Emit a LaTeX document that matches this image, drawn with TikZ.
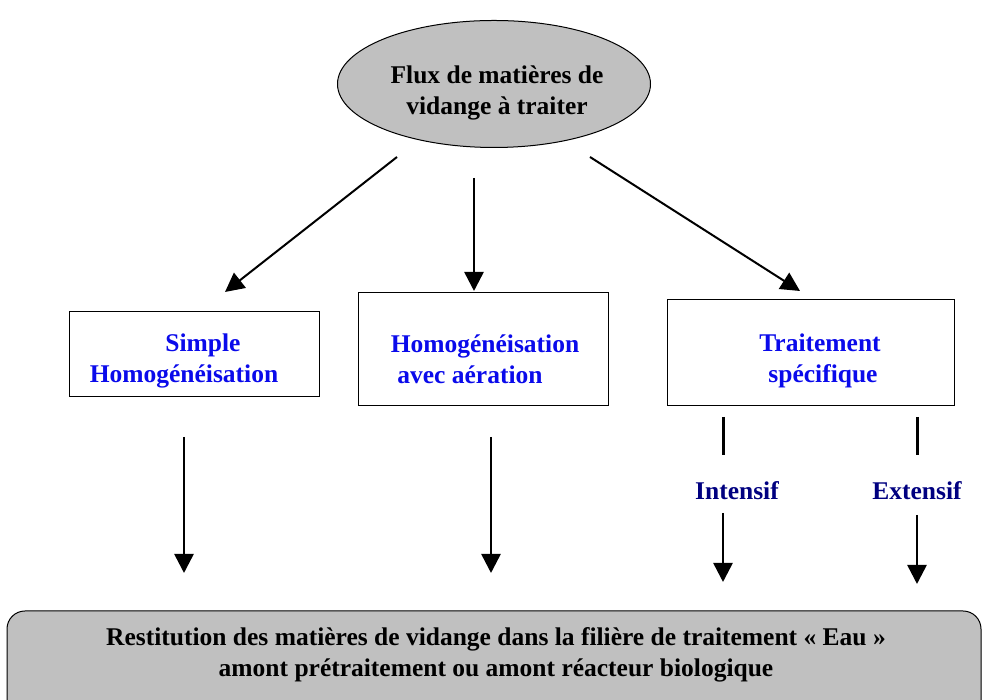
\documentclass[tikz,border=0pt]{standalone}
\usepackage{fontspec}
\setmainfont{Liberation Serif}
\usetikzlibrary{arrows.meta,shapes.geometric}
\definecolor{fillgray}{RGB}{192,192,192}
\definecolor{boxblue}{RGB}{10,10,235}
\definecolor{labnavy}{RGB}{0,0,128}
\tikzset{
  txt/.style={font=\bfseries\fontsize{25.5}{31}\selectfont, align=center, inner sep=0pt},
  procbox/.style={draw, line width=1pt, fill=white, inner sep=0pt},
  boxtxt/.style={txt, text=boxblue},
  arr/.style={line width=2pt, -{Triangle[length=19pt,width=19pt]}},
  varr/.style={line width=2.6pt, -{Triangle[length=19pt,width=19pt]}},
  seg/.style={line width=3pt},
  lab/.style={font=\bfseries\fontsize{25.5}{30}\selectfont, text=labnavy}
}
\begin{document}
\begin{tikzpicture}[x=1pt,y=1pt]
\useasboundingbox (0,0) rectangle (983,700);
% top ellipse
\node[ellipse, draw, line width=1pt, fill=fillgray, minimum width=313pt, minimum height=127pt] (src) at (494,616) {};
\node[txt] (srct) at (497,607) {Flux de matières de\\vidange à traiter};
% boxes
\node[procbox, minimum width=250pt, minimum height=85pt] (b1) at (194,345.5) {};
\node[procbox, minimum width=250pt, minimum height=113pt] (b2) at (483,350.5) {};
\node[procbox, minimum width=287pt, minimum height=106pt] (b3) at (810.5,347) {};
\node[boxtxt] (b1t) at (184,339) {\hspace*{38pt}Simple\\Homogénéisation};
\node[boxtxt] (b2t) at (485,341) {Homogénéisation\\avec aération\hspace*{30pt}};
\node[boxtxt] (b3t) at (820,339) {Traitement\\\hspace*{6pt}spécifique};
% bottom box
\draw[line width=1pt, fill=fillgray, rounded corners=18pt] (7,-25) rectangle (981,89);
\node[txt] (dst) at (496,45.5) {Restitution des matières de vidange dans la filière de traitement «~Eau~»\\amont prétraitement ou amont réacteur biologique};
% coordinates
\coordinate (s1) at (397,543);
\coordinate (e1) at (225,408);
\coordinate (s2) at (474,522);
\coordinate (e2) at (474,409);
\coordinate (s3) at (590,543);
\coordinate (e3) at (800,409);
\draw[arr] (s1) -- (e1);
\draw[varr] (s2) -- (e2);
\draw[arr] (s3) -- (e3);
% down arrows
\coordinate (d1s) at (184,263);
\coordinate (d1e) at (184,127);
\coordinate (d2s) at (491,263);
\coordinate (d2e) at (491,127);
\draw[varr] (d1s) -- (d1e);
\draw[varr] (d2s) -- (d2e);
% intensif / extensif
\node[lab] (int) at (737,209) {Intensif};
\node[lab] (ext) at (917,209) {Extensif};
\coordinate (i1) at (723,283);
\coordinate (i2) at (723,245);
\coordinate (i3) at (723,187);
\coordinate (i4) at (723,118);
\coordinate (x1) at (917,283);
\coordinate (x2) at (917,245);
\coordinate (x3) at (917,185);
\coordinate (x4) at (917,116);
\draw[seg] (i1) -- (i2);
\draw[seg] (x1) -- (x2);
\draw[varr] (i3) -- (i4);
\draw[varr] (x3) -- (x4);
\end{tikzpicture}
\end{document}
